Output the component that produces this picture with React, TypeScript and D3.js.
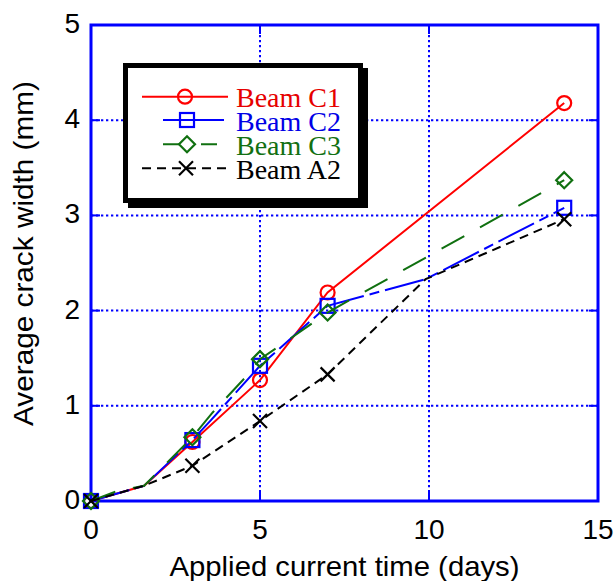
import React from 'react';
import * as d3 from 'd3';

// ---- Data ----
const DAYS = [0, 3, 5, 7, 14];
const C1 = [0, 0.62, 1.27, 2.19, 4.18];
const C2 = [0, 0.64, 1.42, 2.05, 3.08];
const C3 = [0, 0.67, 1.49, 1.98, 3.37];
const A2 = [0, 0.37, 0.84, 1.33, 2.96];

// line traces (vertices as drawn, including unmarked points)
const C1_LINE_X = [0, 1.57, 3, 5, 7, 14];
const C1_LINE_Y = [0, 0.16, 0.62, 1.27, 2.19, 4.18];
const C2_LINE_X = [0, 1.57, 3, 3.55, 5, 7, 9.9, 14];
const C2_LINE_Y = [0, 0.16, 0.64, 0.85, 1.42, 2.05, 2.33, 3.08];
const C3_LINE_X = [0, 0.74, 1.57, 3, 3.6, 4.7, 5, 5.75, 7, 14];
const C3_LINE_Y = [0, 0.1, 0.16, 0.67, 0.93, 1.35, 1.49, 1.67, 1.98, 3.37];
const A2_LINE_X = [0, 1.57, 3, 5, 7, 9.9, 14];
const A2_LINE_Y = [0, 0.16, 0.37, 0.84, 1.33, 2.33, 2.96];

const SERIES_NAMES = ['Beam C1', 'Beam C2', 'Beam C3', 'Beam A2'];
const X_TICKS = [0, 5, 10, 15];
const Y_TICKS = [0, 1, 2, 3, 4, 5];
const X_TITLE = 'Applied current time (days)';
const Y_TITLE = 'Average crack width (mm)';

const W = 615;
const H = 581;
const BLUE = '#0000ff';
const x = d3.scaleLinear().domain([0, 15]).range([91, 598]);
const y = d3.scaleLinear().domain([0, 5]).range([501, 25]);

const series = [
  { name: SERIES_NAMES[0], color: '#ff0000', text: '#e60000', marker: 'circle', dash: null, legDash: null, lx: C1_LINE_X, ly: C1_LINE_Y, my: C1 },
  { name: SERIES_NAMES[1], color: '#0000ff', text: '#0000e6', marker: 'square', dash: '40,6,10,6', legDash: null, lx: C2_LINE_X, ly: C2_LINE_Y, my: C2 },
  { name: SERIES_NAMES[2], color: '#107010', text: '#127012', marker: 'diamond', dash: '26,18', legDash: '16,22', lx: C3_LINE_X, ly: C3_LINE_Y, my: C3 },
  { name: SERIES_NAMES[3], color: '#000000', text: '#000000', marker: 'x', dash: '9,6', legDash: '9,6', lx: A2_LINE_X, ly: A2_LINE_Y, my: A2 },
];

const lineGen = d3.line<[number, number]>().x(d => x(d[0])).y(d => y(d[1]));

function Marker({ type, cx, cy, color }: { type: string; cx: number; cy: number; color: string }) {
  const sw = 2.2;
  if (type === 'circle') return <circle cx={cx} cy={cy} r={7} fill="none" stroke={color} strokeWidth={sw} />;
  if (type === 'square') return <rect x={cx - 7} y={cy - 7} width={14} height={14} fill="none" stroke={color} strokeWidth={sw} />;
  if (type === 'diamond')
    return <path d={`M${cx},${cy - 8}L${cx + 8},${cy}L${cx},${cy + 8}L${cx - 8},${cy}Z`} fill="none" stroke={color} strokeWidth={sw} />;
  return (
    <g stroke={color} strokeWidth={sw}>
      <line x1={cx - 7} y1={cy - 7} x2={cx + 7} y2={cy + 7} />
      <line x1={cx - 7} y1={cy + 7} x2={cx + 7} y2={cy - 7} />
    </g>
  );
}

export default function App() {
  const [x0, x1] = x.range();
  const [y0, y1] = y.range();
  const legendRows = [96.7, 120, 144.3, 168.3];
  const legendLine = [[142, 228], [163, 224], [163, 224], [142, 228]];
  const legendMarkX = [185, 187, 187, 186];
  const legendBase = [106.7, 131, 155, 179];
  return (
    <svg width={W} height={H} style={{ position: 'absolute', left: 0, top: 0, background: '#fff' }}>
      <rect x={0} y={0} width={W} height={H} fill="#fff" />
      {/* grid */}
      <g stroke={BLUE} strokeWidth={2} strokeDasharray="2.3,2.7">
        {X_TICKS.filter(t => t > 0 && t < 15).map(t => (
          <line key={'gx' + t} x1={x(t)} x2={x(t)} y1={y1} y2={y0} />
        ))}
        {Y_TICKS.filter(t => t > 0 && t < 5).map(t => (
          <line key={'gy' + t} x1={x0} x2={x1} y1={y(t)} y2={y(t)} />
        ))}
      </g>
      {/* ticks */}
      <g stroke={BLUE} strokeWidth={2}>
        {X_TICKS.map(t => (
          <g key={'tx' + t}>
            <line x1={x(t)} x2={x(t)} y1={y0} y2={y0 - 9} />
            <line x1={x(t)} x2={x(t)} y1={y1} y2={y1 + 9} />
          </g>
        ))}
        {Y_TICKS.map(t => (
          <g key={'ty' + t}>
            <line x1={x0} x2={x0 + 9} y1={y(t)} y2={y(t)} />
            <line x1={x1} x2={x1 - 9} y1={y(t)} y2={y(t)} />
          </g>
        ))}
      </g>
      <rect x={x0} y={y1} width={x1 - x0} height={y0 - y1} fill="none" stroke={BLUE} strokeWidth={3} />

      {/* series */}
      {series.map(s => {
        const pts = s.lx.map((v, i) => [v, s.ly[i]] as [number, number]);
        return (
          <g key={s.name}>
            <path d={lineGen(pts) || ''} fill="none" stroke={s.color} strokeWidth={2} strokeDasharray={s.dash || undefined} />
            {DAYS.map((d, i) => (
              <Marker key={i} type={s.marker} cx={x(d)} cy={y(s.my[i])} color={s.color} />
            ))}
          </g>
        );
      })}

      {/* tick labels */}
      <g fontFamily="'Liberation Sans', Arial, sans-serif" fontSize={28} fill="#000">
        {X_TICKS.map(t => (
          <text key={'lx' + t} x={x(t)} y={539} textAnchor="middle">{t}</text>
        ))}
        {Y_TICKS.map(t => (
          <text key={'ly' + t} x={80} y={y(t) + 8} textAnchor="end">{t}</text>
        ))}
        <text x={344.5} y={576} textAnchor="middle" textLength={350} lengthAdjust="spacingAndGlyphs">{X_TITLE}</text>
        <text transform="translate(33,253.5) rotate(-90)" textAnchor="middle" textLength={345} lengthAdjust="spacingAndGlyphs">{Y_TITLE}</text>
      </g>

      {/* legend */}
      <rect x={128} y={68} width={240} height={140} fill="#000" />
      <rect x={125.5} y={65.5} width={235} height={135} fill="#fff" stroke="#000" strokeWidth={5} />
      {series.map((s, i) => (
        <g key={'leg' + i}>
          <line x1={legendLine[i][0]} x2={legendLine[i][1]} y1={legendRows[i]} y2={legendRows[i]} stroke={s.color} strokeWidth={2} strokeDasharray={s.legDash || undefined} />
          <Marker type={s.marker} cx={legendMarkX[i]} cy={legendRows[i]} color={s.color} />
          <text x={236} y={legendBase[i]} fontFamily="'Liberation Serif', 'Times New Roman', serif" fontSize={28} fill={s.text}>{s.name}</text>
        </g>
      ))}
    </svg>
  );
}
